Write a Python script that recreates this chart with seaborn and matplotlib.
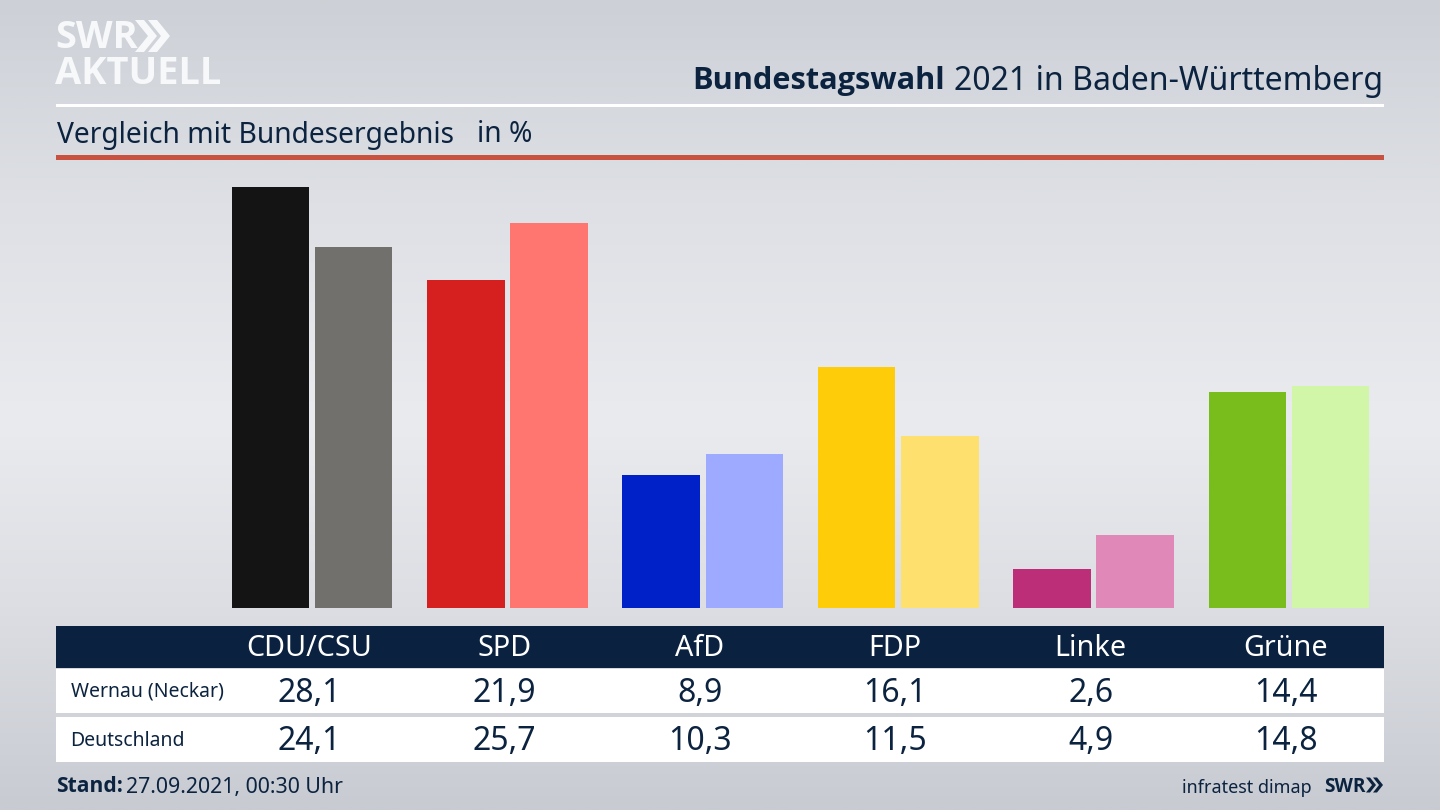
import numpy as np
import pandas as pd
import matplotlib
matplotlib.use("Agg")
import matplotlib.pyplot as plt
from matplotlib.colors import LinearSegmentedColormap
from matplotlib.patches import Rectangle, Polygon
from matplotlib.transforms import blended_transform_factory
import seaborn as sns

parties = ["CDU/CSU", "SPD", "AfD", "FDP", "Linke", "Grüne"]
wernau = [28.1, 21.9, 8.9, 16.1, 2.6, 14.4]
deutschland = [24.1, 25.7, 10.3, 11.5, 4.9, 14.8]
wernau_colors = ["#141414", "#d61f1f", "#0021c8", "#ffcc0a", "#bd2e78", "#78bd1c"]
deutschland_colors = ["#72706d", "#ff7570", "#9eaaff", "#fee06f", "#e088b8", "#d2f6a8"]
row_names = ["Wernau (Neckar)", "Deutschland"]

W, H = 1440, 810
NAVY = "#0c2340"
BOLD = ["Open Sans", "DejaVu Sans"]
sns.set_theme(style="white")
plt.rcParams["font.family"] = ["Noto Sans", "DejaVu Sans"]

fig = plt.figure(figsize=(W / 100, H / 100), dpi=100)

# background
bg = fig.add_axes([0, 0, 1, 1], zorder=0)
cmap = LinearSegmentedColormap.from_list(
    "bg", [(0, "#cdd1d7"), (0.25, "#dee0e5"), (0.52, "#eaebef"), (0.75, "#dcdee3"), (1, "#c8cbd2")]
)
bg.imshow(np.linspace(0, 1, 400)[:, None], cmap=cmap, aspect="auto", extent=(0, W, H, 0), vmin=0, vmax=1)
bg.set_xlim(0, W)
bg.set_ylim(H, 0)
bg.axis("off")

# pixel-coordinate decoration
bg.add_patch(Rectangle((56, 104), 1328, 3, color="white", lw=0))
bg.add_patch(Rectangle((56, 155), 1328, 5, color="#c9513f", lw=0))
bg.add_patch(Rectangle((56, 626), 1328, 42, color="#0a2140", lw=0))
bg.add_patch(Rectangle((56, 669), 1328, 44, color="white", lw=0))
bg.add_patch(Rectangle((56, 717), 1328, 45, color="white", lw=0))

# bars
left, right, base, top = 56, 1384, 608, 165
ax = fig.add_axes([left / W, 1 - base / H, (right - left) / W, (base - top) / H], zorder=1)
df = pd.DataFrame({
    "Partei": parties * 2,
    "Wert": wernau + deutschland,
    "Gebiet": [row_names[0]] * 6 + [row_names[1]] * 6,
})
sns.barplot(data=df, x="Partei", y="Wert", hue="Gebiet", order=parties, hue_order=row_names,
            width=0.85, gap=0.066, legend=False, errorbar=None, saturation=1, ax=ax)
for patch, color in zip(ax.patches, wernau_colors + deutschland_colors):
    patch.set_facecolor(color)
    patch.set_edgecolor("none")
ax.set_xlim((left - 312) / 195.4, (right - 312) / 195.4)
ax.set_ylim(0, (base - top) / 14.97)
ax.axis("off")

# text
def T(x, y, s, size, **kw):
    kw.setdefault("color", NAVY)
    kw.setdefault("va", "center")
    return bg.text(x, y + 3, s, fontsize=size * 0.72, **kw)

T(945, 78, "Bundestagswahl", 30.8, ha="right", family=BOLD, fontweight="bold")
T(1383, 78, "2021 in Baden-Württemberg", 32, ha="right")
T(57, 132, "Vergleich mit Bundesergebnis", 28.2)
T(477, 132, "in %", 28.2)

tr = blended_transform_factory(ax.transData, bg.transData)
shift = 3 / 195.4
for i, p in enumerate(parties):
    bg.text(i - shift, 649, p, transform=tr, ha="center", va="center", color="white", fontsize=28.7 * 0.72)
    bg.text(i - shift, 693, f"{wernau[i]:.1f}".replace(".", ","), transform=tr, ha="center", va="center",
            color=NAVY, fontsize=32 * 0.72)
    bg.text(i - shift, 742, f"{deutschland[i]:.1f}".replace(".", ","), transform=tr, ha="center", va="center",
            color=NAVY, fontsize=32 * 0.72)
T(71, 689, row_names[0], 19.4)
T(70, 738.5, row_names[1], 19.4)

T(56, 784, "Stand:", 21, family=BOLD, fontweight="bold")
T(126, 785, "27.09.2021, 00:30 Uhr", 21.3)
T(1312, 785, "infratest dimap", 18, ha="right")
T(1324, 784, "SWR", 19, family=BOLD, fontweight="bold")

# logo
T(55, 35, "SWR", 38, color="#f7f8f9", family=BOLD, fontweight="bold")
T(55, 71, "AKTUELL", 38, color="#f7f8f9", family=BOLD, fontweight="bold")
def chevron(x, y, h, w, t, color):
    bg.add_patch(Polygon([(x, y - h / 2), (x + t, y - h / 2), (x + t + w, y), (x + t, y + h / 2), (x, y + h / 2), (x + w, y)],
                         closed=True, color=color, lw=0))
for x0 in (135, 148):
    chevron(x0, 36, 32, 13, 9, "#f7f8f9")
for x0 in (1366, 1373):
    chevron(x0, 785, 15, 6, 4, NAVY)

fig.savefig("out.png", dpi=100)
